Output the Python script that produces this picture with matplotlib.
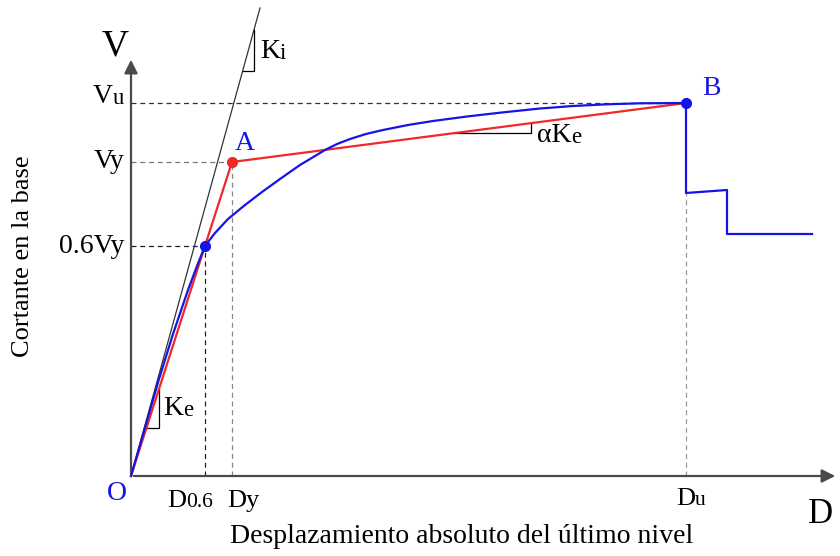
import matplotlib.pyplot as plt

# values (displacement, shear in arbitrary units)
D06, Dy, Du = 0.74, 1.01, 5.55
V06, Vy, Vu = 2.30, 3.14, 3.73
Ki_end = (1.29, 4.68)

# capacity curve (blue)
curve_d = [0.0, 0.15, 0.28, 0.42, 0.57, 0.66, 0.74, 0.84, 0.97, 1.14, 1.31, 1.49,
           1.69, 1.94, 2.06, 2.19, 2.35, 2.52, 2.77, 3.02, 3.36, 3.69, 4.09, 4.42,
           4.76, 5.09, 5.55]
curve_v = [0.0, 0.52, 0.97, 1.42, 1.86, 2.10, 2.30, 2.43, 2.57, 2.71, 2.84, 2.97,
           3.11, 3.26, 3.32, 3.37, 3.42, 3.46, 3.51, 3.55, 3.595, 3.633, 3.675, 3.70,
           3.717, 3.727, 3.73]
# post-peak degradation steps
drop_d = [5.55, 5.55, 5.96, 5.96, 6.81]
drop_v = [3.73, 2.83, 2.86, 2.42, 2.42]

# bilinear idealisation (red)
bil_d = [0.0, Dy, Du]
bil_v = [0.0, Vy, Vu]

BLUE = '#1414e6'
RED = '#f02828'
AX = '#4a4a4a'
SERIF = 'Liberation Serif'

fig = plt.figure(figsize=(8.4, 5.56), dpi=100)
ax = fig.add_axes([0, 0, 1, 1])
ax.set_xlim(-1.31, 7.09)
ax.set_ylim(-0.80, 4.76)
ax.axis('off')

# axes with arrows
ax.annotate('', xy=(7.07, 0), xytext=(0, 0),
            arrowprops=dict(arrowstyle='-|>', color=AX, lw=1.6, mutation_scale=20))
ax.annotate('', xy=(0, 4.19), xytext=(0, 0),
            arrowprops=dict(arrowstyle='-|>', color=AX, lw=1.6, mutation_scale=20))

# dashed guides
dash = dict(ls=(0, (4, 3)), lw=0.9)
ax.plot([0, Du], [Vu, Vu], color='#333333', **dash)
ax.plot([0, Dy], [Vy, Vy], color='#777777', **dash)
ax.plot([0, D06], [V06, V06], color='#222222', **dash)
ax.plot([D06, D06], [0, V06], color='#222222', **dash)
ax.plot([Dy, Dy], [0, Vy], color='#888888', **dash)
ax.plot([Du, Du], [0, drop_v[1]], color='#999999', **dash)

# initial stiffness line
ax.plot([0, Ki_end[0]], [0, Ki_end[1]], color='#333333', lw=0.9)

ax.plot(bil_d, bil_v, color=RED, lw=1.6, zorder=3)
ax.plot(curve_d, curve_v, color=BLUE, lw=1.6, zorder=4, solid_joinstyle='round')
ax.plot(drop_d, drop_v, color=BLUE, lw=1.6, zorder=4)

ax.plot([Dy], [Vy], 'o', color=RED, ms=7, zorder=5)
ax.plot([D06, Du], [V06, Vu], 'o', color=BLUE, ms=7, zorder=5)

# slope triangles
ki = Ki_end[1] / Ki_end[0]
ke = Vy / Dy
alpha_ke = (Vu - Vy) / (Du - Dy)
ax.plot([4.05 / ki, 1.23, 1.23], [4.05, 4.05, 1.23 * ki], color='k', lw=0.9)
ax.plot([0.48 / ke, 0.28, 0.28], [0.48, 0.48, 0.28 * ke], color='k', lw=0.9)
ya = 3.43
xa = Dy + (ya - Vy) / alpha_ke
ax.plot([xa, 4.00, 4.00], [ya, ya, Vy + alpha_ke * (4.00 - Dy)], color='k', lw=0.9)


def lab(x, y, main, sub='', size=20, color='k', ha='left'):
    kw = dict(family=SERIF, color=color, va='baseline')
    if ha == 'left':
        t = ax.text(x, y, main, fontsize=size, ha='left', **kw)
        if sub:
            ax.annotate(sub, xy=(1, 0), xycoords=t, fontsize=size * 0.82,
                        ha='left', va='bottom', family=SERIF, color=color)
    else:
        if sub:
            s = ax.text(x, y, sub, fontsize=size * 0.82, ha='right', **kw)
            ax.annotate(main, xy=(0, 0), xycoords=s, fontsize=size,
                        ha='right', va='bottom', family=SERIF, color=color)
        else:
            ax.text(x, y, main, fontsize=size, ha='right', **kw)


lab(-0.07, 3.72, 'V', 'u', ha='right')
lab(-0.07, 3.08, 'Vy', ha='right')
lab(-0.07, 2.23, '0.6Vy', ha='right')
ax.text(-0.16, 4.20, 'V', fontsize=27, family=SERIF, ha='center', va='baseline')
ax.text(6.77, -0.47, 'D', fontsize=25, family=SERIF, ha='left', va='baseline')
ax.text(-0.14, -0.24, 'O', fontsize=20, family=SERIF, color=BLUE, ha='center', va='baseline')
ax.text(1.04, 3.26, 'A', fontsize=20, family=SERIF, color=BLUE, ha='left', va='baseline')
ax.text(5.71, 3.81, 'B', fontsize=20, family=SERIF, color=BLUE, ha='left', va='baseline')
lab(0.36, -0.31, 'D', '0.6', size=19)
lab(0.96, -0.31, 'Dy', size=19)
lab(5.45, -0.29, 'D', 'u', size=19)
lab(1.29, 4.18, 'K', 'i')
lab(0.32, 0.61, 'K', 'e')
lab(4.06, 3.34, 'αK', 'e')

ax.text(3.31, -0.67, 'Desplazamiento absoluto del último nivel', fontsize=20,
        family=SERIF, ha='center', va='baseline')
ax.text(-1.08, 2.20, 'Cortante en la base', fontsize=19, family=SERIF,
        rotation=90, ha='center', va='center')

fig.savefig('out.png', dpi=100)
